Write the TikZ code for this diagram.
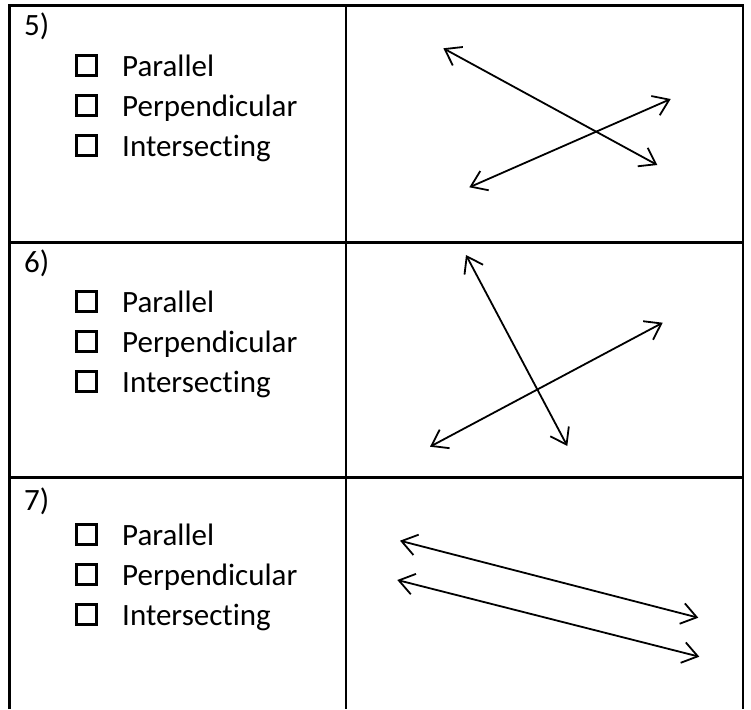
\documentclass[tikz,border=0pt]{standalone}
\usepackage{fontspec}
\setmainfont{Carlito}[RawFeature=-liga]
\usetikzlibrary{arrows.meta}
\begin{document}
\begin{tikzpicture}[x=1pt,y=-1pt,
  grid/.style={line width=2.4pt},
  dbl/.style={line width=1.8pt,
    {Straight Barb[length=15pt,width=21pt]}-{Straight Barb[length=15pt,width=21pt]}},
  lbl/.style={anchor=base west, inner sep=0pt, font=\fontsize{31}{37}\selectfont},
  cbox/.style={draw, line width=2.8pt, inner sep=0pt, minimum size=19.5pt}
]
\useasboundingbox (0,0) rectangle (751,709);
% table
\draw[grid] (9.5,709) -- (9.5,5.5) -- (742.7,5.5) -- (742.7,709);
\draw[grid] (346,5.5) -- (346,709);
\draw[grid] (9.5,242.3) -- (742.7,242.3);
\draw[grid] (9.5,477.3) -- (742.7,477.3);
% left column texts
\foreach \n/\nb/\pb in {5/36/76, 6/272.5/312, 7/510/545}{
  \node[lbl] (num\n) at (24,\nb) {\n)};
  \node[cbox] (boxa\n) at (86.5,\pb-10.5) {};
  \node[cbox] (boxb\n) at (86.5,\pb+29.5) {};
  \node[cbox] (boxc\n) at (86.5,\pb+69.5) {};
  \node[lbl] (par\n) at (122,\pb) {Parallel};
  \node[lbl] (per\n) at (122,\pb+40) {Perpendicular};
  \node[lbl] (int\n) at (122,\pb+80) {Intersecting};
}
% row 5
\coordinate (a1) at (443.3,48.3);
\coordinate (a2) at (657.3,165);
\coordinate (b1) at (469.3,187.3);
\coordinate (b2) at (670.7,99);
\draw[dbl] (a1) -- (a2);
\draw[dbl] (b1) -- (b2);
% row 6
\coordinate (c1) at (466,255);
\coordinate (c2) at (567.3,446);
\coordinate (d1) at (430,446.7);
\coordinate (d2) at (662.7,322.7);
\draw[dbl] (c1) -- (c2);
\draw[dbl] (d1) -- (d2);
% row 7
\coordinate (e1) at (400,540.7);
\coordinate (e2) at (698.3,617.7);
\coordinate (f1) at (397.3,580);
\coordinate (f2) at (699.3,656.7);
\draw[dbl] (e1) -- (e2);
\draw[dbl] (f1) -- (f2);
\end{tikzpicture}
\end{document}
